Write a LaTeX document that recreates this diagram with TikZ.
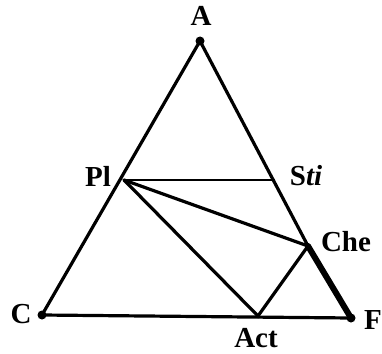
\documentclass[tikz,border=0pt]{standalone}
\usepackage{fontspec}
\setmainfont{Liberation Serif}
\begin{document}
\begin{tikzpicture}[x=1pt,y=-1pt,
  edge/.style={line width=3.2pt,line cap=round},
  thin edge/.style={line width=2.4pt,line cap=round},
  heavy/.style={line width=6pt,line cap=round},
  dot/.style={circle,fill=black,inner sep=0pt,minimum size=9pt},
  lab/.style={font=\fontsize{29}{31}\selectfont\bfseries,inner sep=0pt}]
\useasboundingbox (0,0) rectangle (382,353);
\node[dot] (A) at (200,41) {};
\node[dot] (C) at (42,315) {};
\node[dot] (F) at (351,318) {};
\coordinate (Pl) at (124,180);
\coordinate (Sti) at (274,180);
\coordinate (Che) at (308,246);
\coordinate (Act) at (258,316);
\node[lab] (lA) at (201,16) {A};
\node[lab] (lPl) at (98,176) {Pl};
\node[lab] (lSti) at (306,176) {S\textit{ti}};
\node[lab] (lChe) at (346,242) {Che};
\node[lab] (lC) at (21,314) {C};
\node[lab] (lAct) at (256,338) {Act};
\node[lab] (lF) at (373,320) {F};
\draw[edge] (A.center) -- (C.center) -- (F.center);
\draw[edge] (A.center) -- (Che);
\draw[heavy] (Che) -- (F.center);
\draw[thin edge] (Pl) -- (Sti);
\draw[edge] (Pl) -- (Che);
\draw[edge] (Pl) -- (Act) -- (Che);
\end{tikzpicture}
\end{document}
